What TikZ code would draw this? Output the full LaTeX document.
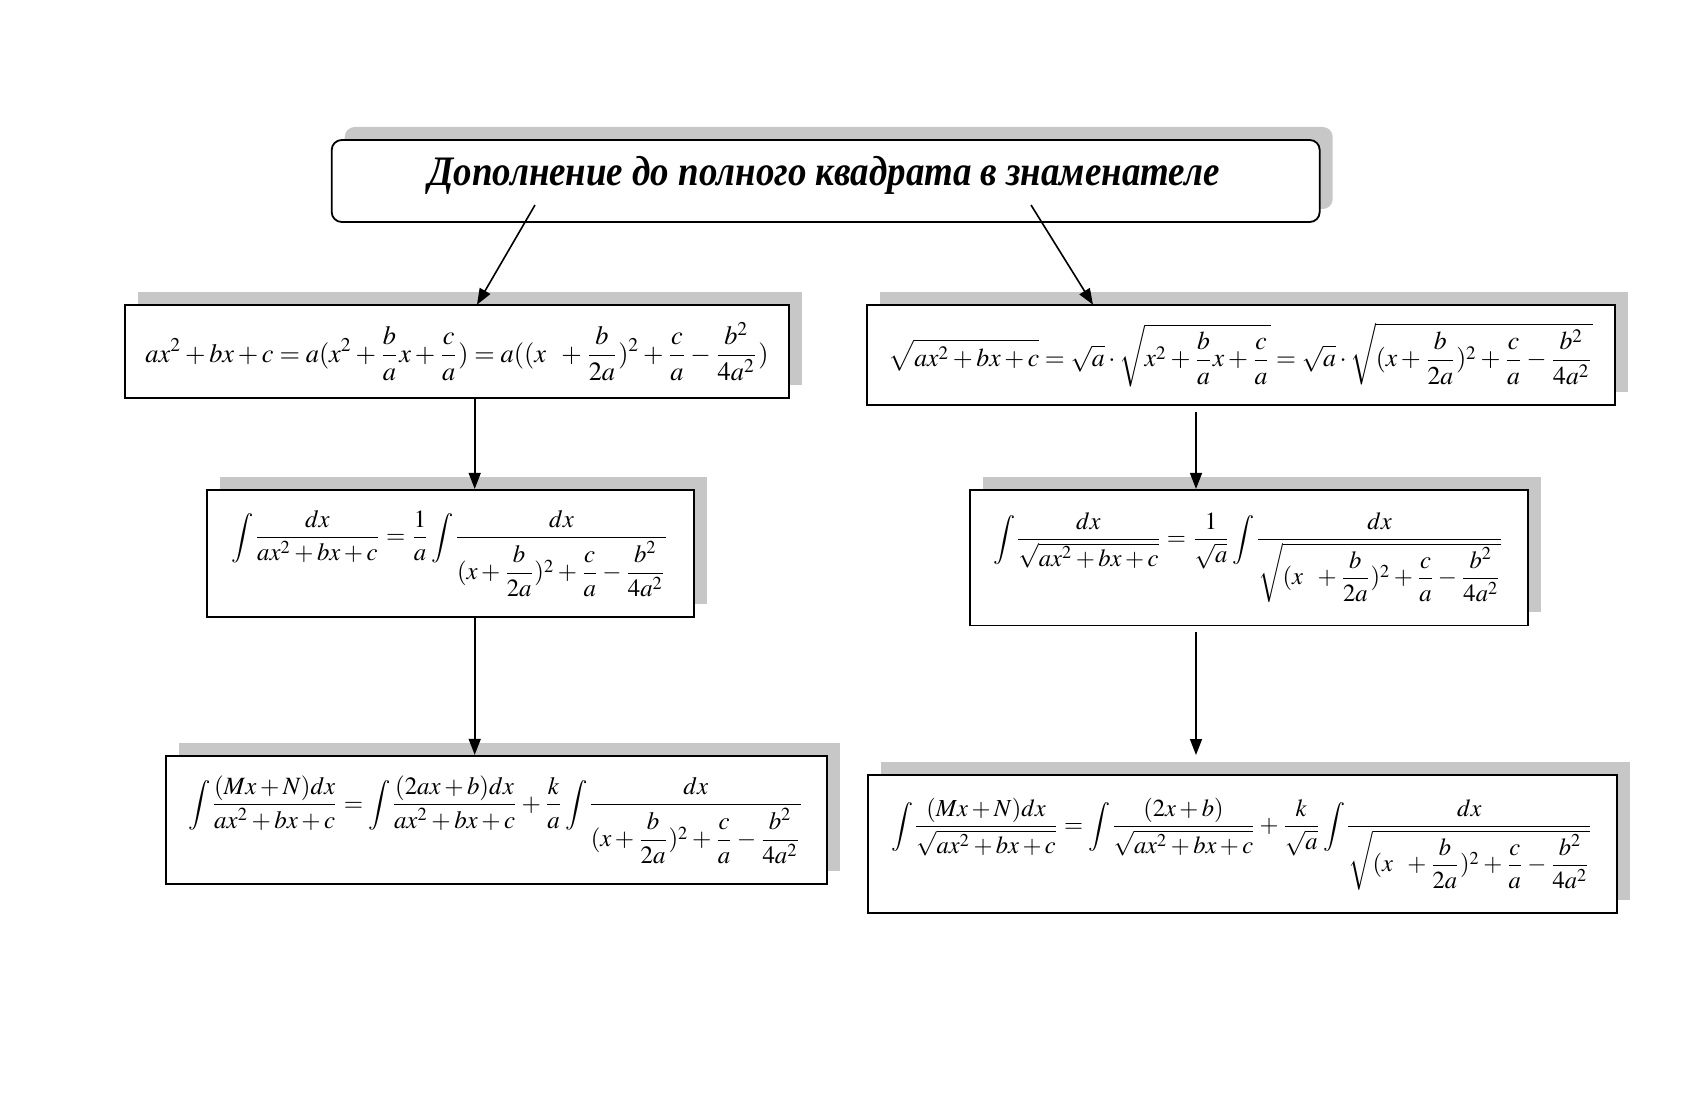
\documentclass[tikz,border=0pt]{standalone}
\usepackage{amsmath}
\usepackage{mathptmx}
\usepackage{fontspec}
\setmainfont{Liberation Serif}
\usetikzlibrary{arrows.meta,shadows}
\newcommand{\eqfit}[2]{\resizebox{#1}{!}{$\displaystyle #2$}}
\newcommand{\tailq}{\Bigl(x+\dfrac{b}{2a}\Bigr)^{2}+\dfrac{c}{a}-\dfrac{b^2}{4a^2}}
\newcommand{\tailqs}{(x\;\;+\dfrac{b}{2a})^{2}+\dfrac{c}{a}-\dfrac{b^2}{4a^2}}
\tikzset{
  box/.style={draw=black, line width=0.9pt, fill=white, inner sep=0pt,
    drop shadow={shadow xshift=6.5pt, shadow yshift=6.5pt, fill=black!22, opacity=1}},
  titlebox/.style={box, rounded corners=5pt},
  arr/.style={draw=black, line width=0.8pt, -{Triangle[length=8pt,width=6pt]}},
}
\begin{document}
\begin{tikzpicture}[x=0.5pt,y=-0.5pt]
\useasboundingbox (0,0) rectangle (1688,1097);
% title
\node[titlebox, minimum width=494pt, minimum height=41pt] (T) at (825.7,181) {};
\node[inner sep=0pt] (Tt) at (824,175) {\resizebox{395.6pt}{\height}{\fontsize{21}{25}\selectfont\bfseries\itshape Дополнение до полного квадрата в знаменателе}};
% left column
\node[box, minimum width=332pt, minimum height=46.8pt] (L1) at (457,351.5)
 {\eqfit{311.5pt}{ax^2+bx+c=a(x^2+\frac{b}{a}x+\frac{c}{a})=a((x\;\;+\frac{b}{2a})^2+\frac{c}{a}-\frac{b^2}{4a^2})}};
\node[box, minimum width=243.8pt, minimum height=63.5pt] (L2) at (450.5,553.3)
 {\eqfit{218.5pt}{\int\!\frac{dx}{ax^2+bx+c}=\frac{1}{a}\int\!\frac{dx}{(x+\dfrac{b}{2a})^2+\dfrac{c}{a}-\dfrac{b^2}{4a^2}}}};
\node[box, minimum width=330.5pt, minimum height=64pt] (L3) at (496.3,819.75)
 {\eqfit{307.5pt}{\int\!\frac{(Mx+N)dx}{ax^2+bx+c}=\int\!\frac{(2ax+b)dx}{ax^2+bx+c}+\frac{k}{a}\int\!\frac{dx}{(x+\dfrac{b}{2a})^2+\dfrac{c}{a}-\dfrac{b^2}{4a^2}}}};
% right column
\node[box, minimum width=374.1pt, minimum height=50pt] (R1) at (1240.7,354.75)
 {\eqfit{352pt}{\sqrt{ax^2+bx+c}=\sqrt{a}\cdot\sqrt{x^2+\frac{b}{a}x+\frac{c}{a}}=\sqrt{a}\cdot\sqrt{(x+\frac{b}{2a})^2+\frac{c}{a}-\frac{b^2}{4a^2}}}};
\node[box, minimum width=278.8pt, minimum height=67.8pt] (R2) at (1248.8,557.6)
 {\eqfit{255.5pt}{\int\!\frac{dx}{\sqrt{ax^2+bx+c}}=\frac{1}{\sqrt{a}}\int\!\frac{dx}{\sqrt{\tailqs}}}};
\node[box, minimum width=374.6pt, minimum height=68.9pt] (R3) at (1242.3,844)
 {\eqfit{351pt}{\int\!\frac{(Mx+N)dx}{\sqrt{ax^2+bx+c}}=\int\!\frac{(2x+b)}{\sqrt{ax^2+bx+c}}+\frac{k}{\sqrt{a}}\int\!\frac{dx}{\sqrt{\tailqs}}}};
% connector points
\coordinate (ts1) at (535,205);
\coordinate (te1) at (477,304.7);
\coordinate (ts2) at (1031,205);
\coordinate (te2) at (1093,304.7);
\coordinate (lx) at (474.7,0);
\coordinate (rx) at (1196,0);
\coordinate (r3tip) at (1196,755);
% connectors
\draw[arr] (ts1) -- (te1);
\draw[arr] (ts2) -- (te2);
\draw[arr] (L1.south -| lx) -- (L2.north -| lx);
\draw[arr] (L2.south -| lx) -- (L3.north -| lx);
\draw[arr] ([yshift=-3pt]R1.south -| rx) -- (R2.north -| rx);
\draw[arr] ([yshift=-3pt]R2.south -| rx) -- (r3tip);
\end{tikzpicture}
\end{document}
